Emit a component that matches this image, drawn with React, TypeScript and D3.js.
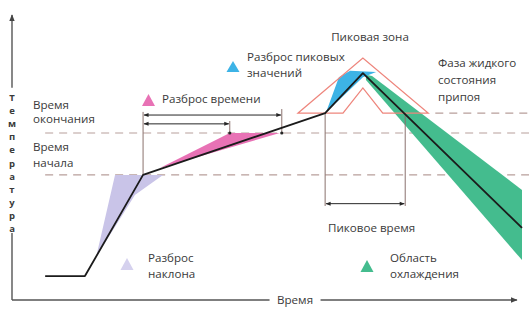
import React from 'react';
import * as d3 from 'd3';

// Reflow profile, time in % of the run, temperature in % of the scale
const profileTime = [6.5, 14.3, 25.7, 61.4, 68.8, 100];
const profileTemp = [8.4, 8.4, 43.9, 65.6, 79.6, 25.3];

// reference levels
const startLevel = 43.9;
const endLevel = 58.6;
const liquidusLevel = 65.6;

// spread regions
const slopeTime = [20.2, 29.6, 24.1, 16.5];
const slopeTemp = [43.9, 43.9, 36.8, 15.1];
const timeSpreadTime = [29.0, 42.7, 52.5];
const timeSpreadTemp = [46.3, 58.6, 58.6];
const peakSpreadTime = [61.6, 64.1, 66.3, 71.4, 68.8, 62.9];
const peakSpreadTemp = [66.0, 78.2, 80.4, 80.0, 78.2, 68.1];
const coolingTime = [69.4, 70.6, 100, 100, 69.4];
const coolingTemp = [79.0, 78.6, 38.6, 14.0, 77.2];
const peakZoneTime = [56.1, 68.8, 81.6, 72.7, 68.8, 64.9];
const peakZoneTemp = [65.6, 84.9, 65.6, 65.6, 74.4, 65.6];

// time markers
const startTime = 25.7;
const endTimeMin = 42.7;
const endTimeMax = 52.9;
const peakTimes = [61.4, 77.1];

const yLetters = ['Т', 'е', 'м', 'п', 'е', 'р', 'а', 'т', 'у', 'р', 'а'];

const W = 529;
const H = 311;

const App = () => {
  const x = d3.scaleLinear().domain([0, 100]).range([12, 522]);
  const y = d3.scaleLinear().domain([0, 100]).range([300, 15]);

  const line = d3.line<[number, number]>()
    .x(d => x(d[0]))
    .y(d => y(d[1]));
  const poly = (ts: number[], vs: number[]) =>
    line(ts.map((t, i) => [t, vs[i]] as [number, number])) + 'Z';

  const font = { fontFamily: '"Open Sans", sans-serif', fontSize: 11.6, fill: '#3a3a3a' };
  const dashColor = '#b89f9b';
  const markColor = '#8a716d';
  const arrowColor = '#262626';

  return (
    <svg width={W} height={H} style={{ position: 'absolute', left: 0, top: 0, background: '#fff' }}>
      <defs>
        <marker id="ah" viewBox="0 0 10 10" refX="9" refY="5" markerWidth="6" markerHeight="5" orient="auto-start-reverse">
          <path d="M0,1 L10,5 L0,9 Z" fill={arrowColor} />
        </marker>
        <marker id="axh" viewBox="0 0 10 10" refX="9" refY="5" markerWidth="5" markerHeight="5" orient="auto">
          <path d="M0,1 L10,5 L0,9 Z" fill="#444" />
        </marker>
      </defs>

      {/* reference dashed levels */}
      {[startLevel, endLevel].map((lv, i) => (
        <line key={i} x1={x(6.5)} x2={x(103)} y1={y(lv)} y2={y(lv)}
          stroke={dashColor} strokeWidth={1.2} strokeDasharray="8,6" />
      ))}
      <line x1={x(83)} x2={x(103)} y1={y(liquidusLevel)} y2={y(liquidusLevel)}
        stroke={dashColor} strokeWidth={1.2} strokeDasharray="8,6" />

      {/* spread regions */}
      <path d={poly(slopeTime, slopeTemp)} fill="#c9c4e8" />
      <path d={poly(timeSpreadTime, timeSpreadTemp)} fill="#e872b5" />
      <path d={poly(coolingTime, coolingTemp)} fill="#44bc8e" />
      <path d={poly(peakSpreadTime, peakSpreadTemp)} fill="#3db3e6" />

      {/* peak zone */}
      <path d={poly(peakZoneTime, peakZoneTemp)} fill="none" stroke="#ee857c" strokeWidth={1.3} />

      {/* time markers */}
      <line x1={x(startTime)} x2={x(startTime)} y1={y(66)} y2={y(startLevel)} stroke={markColor} strokeWidth={1} />
      <line x1={x(endTimeMax)} x2={x(endTimeMax)} y1={y(67)} y2={y(endLevel)} stroke={markColor} strokeWidth={1} />
      <line x1={x(endTimeMin)} x2={x(endTimeMin)} y1={y(62.8)} y2={y(endLevel)} stroke={markColor} strokeWidth={1} />
      <circle cx={x(endTimeMax)} cy={y(endLevel)} r={1.6} fill={arrowColor} />
      <circle cx={x(endTimeMin)} cy={y(endLevel)} r={1.6} fill={arrowColor} />
      <line x1={x(startTime) + 1} x2={x(endTimeMax) - 1} y1={y(64.9)} y2={y(64.9)}
        stroke={arrowColor} strokeWidth={1} markerStart="url(#ah)" markerEnd="url(#ah)" />
      <line x1={x(startTime) + 1} x2={x(endTimeMin) - 1} y1={y(61.8)} y2={y(61.8)}
        stroke={arrowColor} strokeWidth={1} markerStart="url(#ah)" markerEnd="url(#ah)" />

      {peakTimes.map((t, i) => (
        <line key={i} x1={x(t)} x2={x(t)} y1={y(liquidusLevel)} y2={y(33)} stroke={markColor} strokeWidth={1} />
      ))}
      <line x1={x(peakTimes[0]) + 1} x2={x(peakTimes[1]) - 1} y1={y(33.8)} y2={y(33.8)}
        stroke={arrowColor} strokeWidth={1} markerStart="url(#ah)" markerEnd="url(#ah)" />

      {/* profile */}
      <path d={line(profileTime.map((t, i) => [t, profileTemp[i]] as [number, number])) || ''}
        fill="none" stroke="#1b1b1b" strokeWidth={1.8} strokeLinejoin="round" />

      {/* axes */}
      <line x1={x(0)} x2={x(0)} y1={y(0)} y2={y(23.5)} stroke="#555" strokeWidth={1.4} />
      <line x1={x(0)} x2={x(0)} y1={y(74.5)} y2={y(100)} stroke="#555" strokeWidth={1.4} markerEnd="url(#axh)" />
      <line x1={x(0)} x2={x(50.5)} y1={y(0)} y2={y(0)} stroke="#555" strokeWidth={1.4} />
      <line x1={x(60.5)} x2={x(99)} y1={y(0)} y2={y(0)} stroke="#555" strokeWidth={1.4} markerEnd="url(#axh)" />
      <text x={(x(50.5) + x(60.5)) / 2} y={y(0) + 4} textAnchor="middle" {...font}>Время</text>
      {yLetters.map((ch, i) => (
        <text key={i} x={x(0)} y={101 + i * 13.1} textAnchor="middle" {...font} fontSize={9.5} fontWeight={700}>{ch}</text>
      ))}

      {/* left labels */}
      <text x={33} y={109} {...font}>Время</text>
      <text x={33} y={123} {...font}>окончания</text>
      <text x={33} y={151} {...font}>Время</text>
      <text x={33} y={167} {...font}>начала</text>

      {/* legend triangles and labels */}
      <path d="M148.5,94 L155,106 L142,106 Z" fill="#e872b5" />
      <text x={162} y={103} {...font}>Разброс времени</text>

      <path d="M233,61 L239.5,72 L226.5,72 Z" fill="#3db3e6" />
      <text x={247} y={61} {...font}>Разброс пиковых</text>
      <text x={247} y={77} {...font}>значений</text>

      <path d="M127,258 L133.5,270 L120.5,270 Z" fill="#d5d1ee" />
      <text x={148} y={262} {...font}>Разброс</text>
      <text x={148} y={278} {...font}>наклона</text>

      <path d="M367,260 L373.5,272 L360.5,272 Z" fill="#44bc8e" />
      <text x={390} y={262} {...font}>Область</text>
      <text x={390} y={278} {...font}>охлаждения</text>

      <text x={370} y={41} textAnchor="middle" {...font}>Пиковая зона</text>
      <text x={438} y={67} {...font}>Фаза жидкого</text>
      <text x={438} y={84} {...font}>состояния</text>
      <text x={438} y={101} {...font}>припоя</text>
      <text x={328} y={232} {...font}>Пиковое время</text>
    </svg>
  );
};

export default App;
